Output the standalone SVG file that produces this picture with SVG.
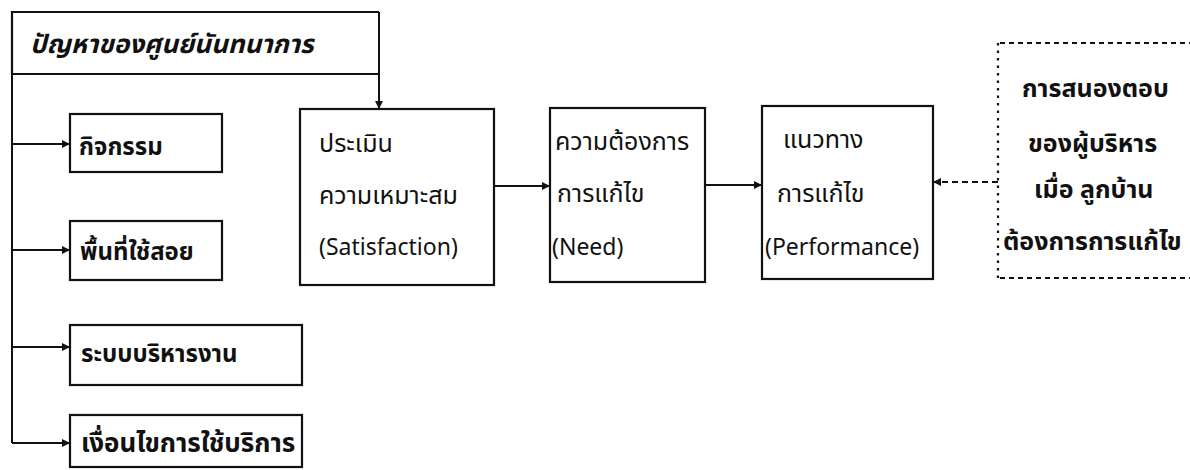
<svg xmlns="http://www.w3.org/2000/svg" width="1190" height="470" viewBox="0 0 1190 470">
  <defs>
    <style>
      .box { fill: none; stroke: #111; stroke-width: 2.2; }
      .wire { fill: none; stroke: #111; stroke-width: 2; }
      .dash-h { fill: none; stroke: #111; stroke-width: 2; stroke-dasharray: 5 4; }
      .dash-v { fill: none; stroke: #111; stroke-width: 2.2; stroke-dasharray: 2.5 5; }
      .dash-arrow { fill: none; stroke: #111; stroke-width: 2; stroke-dasharray: 6 4; }
      .th { font-family: "Noto Sans Thai", "Liberation Sans", "DejaVu Sans", sans-serif; fill: #111; }
      .title { font-size: 26px; font-weight: bold; font-style: italic; }
      .item { font-size: 24px; font-weight: bold; }
      .body { font-size: 25px; }
      .latin { font-size: 23px; }
      .note { font-size: 25px; font-weight: bold; }
    </style>
    <marker id="arrow" viewBox="0 0 10 10" refX="10" refY="5" markerWidth="9" markerHeight="8" markerUnits="userSpaceOnUse" orient="auto">
      <path d="M0,0 L10,5 L0,10 Z" fill="#111"/>
    </marker>
  </defs>

  <rect width="1190" height="470" fill="#ffffff"/>

  <!-- header: problems of the recreation centre -->
  <g id="header">
    <path class="box" d="M12,74 L12,12 L379,12 M12,74 L379,74"/>
    <text class="th title" x="30" y="53">ปัญหาของศูนย์นันทนาการ</text>
  </g>

  <!-- problem categories -->
  <g id="activities">
    <rect class="box" x="70" y="114" width="152" height="58"/>
    <text class="th item" x="79" y="155">กิจกรรม</text>
  </g>
  <g id="space">
    <rect class="box" x="70" y="221" width="152" height="59"/>
    <text class="th item" x="80" y="260">พื้นที่ใช้สอย</text>
  </g>
  <g id="management">
    <rect class="box" x="70" y="325" width="232" height="60"/>
    <text class="th item" x="81" y="362">ระบบบริหารงาน</text>
  </g>
  <g id="conditions">
    <rect class="box" x="70" y="415" width="232" height="52"/>
    <text class="th item" x="81" y="452" style="font-size:26px">เงื่อนไขการใช้บริการ</text>
  </g>

  <!-- evaluation chain -->
  <g id="satisfaction">
    <rect class="box" x="300" y="109" width="194" height="176"/>
    <text class="th body" x="319" y="152">ประเมิน</text>
    <text class="th body" x="319" y="204">ความเหมาะสม</text>
    <text class="th latin" x="319" y="255">(Satisfaction)</text>
  </g>
  <g id="need">
    <rect class="box" x="550" y="108" width="155" height="174"/>
    <text class="th body" x="555" y="150">ความต้องการ</text>
    <text class="th body" x="557" y="202">การแก้ไข</text>
    <text class="th latin" x="552" y="255">(Need)</text>
  </g>
  <g id="performance">
    <rect class="box" x="762" y="106" width="171" height="173"/>
    <text class="th body" x="783" y="148">แนวทาง</text>
    <text class="th body" x="777" y="202">การแก้ไข</text>
    <text class="th latin" x="765" y="255">(Performance)</text>
  </g>

  <!-- management response (dashed) -->
  <g id="response">
    <path class="dash-h" d="M1000,43 L1192,43 M1000,278 L1192,278"/>
    <path class="dash-v" d="M998,43 L998,278"/>
    <text class="th note" x="1022" y="97">การสนองตอบ</text>
    <text class="th note" x="1028" y="152">ของผู้บริหาร</text>
    <text class="th note" x="1034" y="198">เมื่อ ลูกบ้าน</text>
    <text class="th note" x="1003" y="250">ต้องการการแก้ไข</text>
  </g>

  <g id="connectors">
    <!-- bus feeding each category -->
    <path class="wire" d="M12,74 L12,443"/>
    <path class="wire" d="M12,144 L70,144" marker-end="url(#arrow)"/>
    <path class="wire" d="M12,250 L70,250" marker-end="url(#arrow)"/>
    <path class="wire" d="M12,347 L70,347" marker-end="url(#arrow)"/>
    <path class="wire" d="M12,443 L70,443" marker-end="url(#arrow)"/>
    <!-- header into evaluation -->
    <path class="wire" d="M379,12 L379,109" marker-end="url(#arrow)"/>
    <path class="wire" d="M494,186 L550,186" marker-end="url(#arrow)"/>
    <path class="wire" d="M705,185 L762,185" marker-end="url(#arrow)"/>
    <path class="dash-arrow" d="M998,182 L933,182" marker-end="url(#arrow)"/>
  </g>
</svg>
